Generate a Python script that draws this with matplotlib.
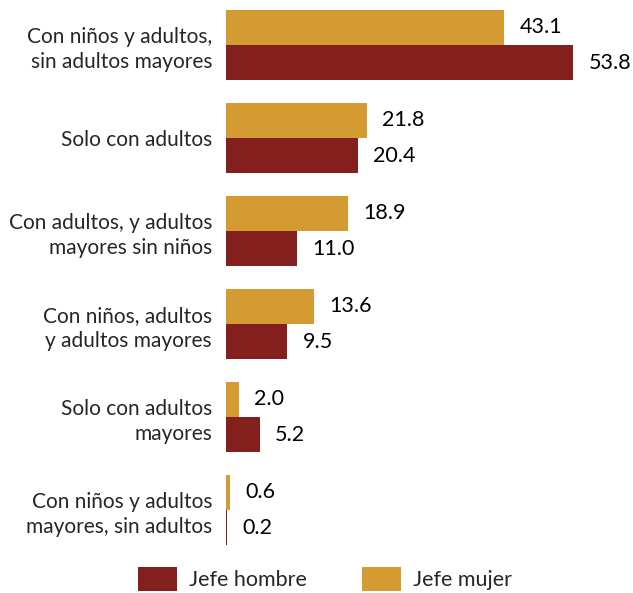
import matplotlib
matplotlib.use("Agg")
import matplotlib.pyplot as plt
import numpy as np

# --- Data -------------------------------------------------------------------
categorias = [
    "Con niños y adultos,\nsin adultos mayores",
    "Solo con adultos",
    "Con adultos, y adultos\nmayores sin niños",
    "Con niños, adultos\ny adultos mayores",
    "Solo con adultos\nmayores",
    "Con niños y adultos\nmayores, sin adultos",
]
jefe_mujer = [43.1, 21.8, 18.9, 13.6, 2.0, 0.6]
jefe_hombre = [53.8, 20.4, 11.0, 9.5, 5.2, 0.2]

COL_MUJER = "#D39B31"
COL_HOMBRE = "#831F1C"
TXT = "#262626"

plt.rcParams["font.family"] = ["Lato", "DejaVu Sans"]

# --- Figure -----------------------------------------------------------------
W, H = 633, 593
fig = plt.figure(figsize=(W / 100, H / 100), dpi=100)
ax = fig.add_axes([226 / W, 1 - 558 / H, 407 / W, 558 / H])

y = np.arange(len(categorias))
h = 0.38
b1 = ax.barh(y - h / 2, jefe_mujer, height=h, color=COL_MUJER,
             linewidth=0, label="Jefe mujer")
b2 = ax.barh(y + h / 2, jefe_hombre, height=h, color=COL_HOMBRE,
             linewidth=0, label="Jefe hombre")

for bars in (b1, b2):
    ax.bar_label(bars, labels=[f"{v:.1f}" for v in bars.datavalues],
                 padding=11, fontsize=15.5, color="black")

ax.set_xlim(0, 407 / 6.45)
ax.set_ylim(len(categorias) - 0.5 + 0.016, -0.5 + 0.016)
ax.set_yticks(y)
ax.set_yticklabels(categorias, fontsize=15, color=TXT, ha="right",
                   multialignment="right", linespacing=1.3)
ax.tick_params(axis="y", length=0, pad=10)
ax.set_xticks([])
for s in ax.spines.values():
    s.set_visible(False)

fig.legend(handles=[b2, b1], labels=["Jefe hombre", "Jefe mujer"],
           loc="upper center", bbox_to_anchor=(325 / W, 1 - 548 / H),
           ncol=2, frameon=False, fontsize=15.5, handlelength=1.8,
           handleheight=1.3, handletextpad=0.55, columnspacing=2.6,
           labelcolor=TXT)

fig.savefig("out.png", dpi=100)
